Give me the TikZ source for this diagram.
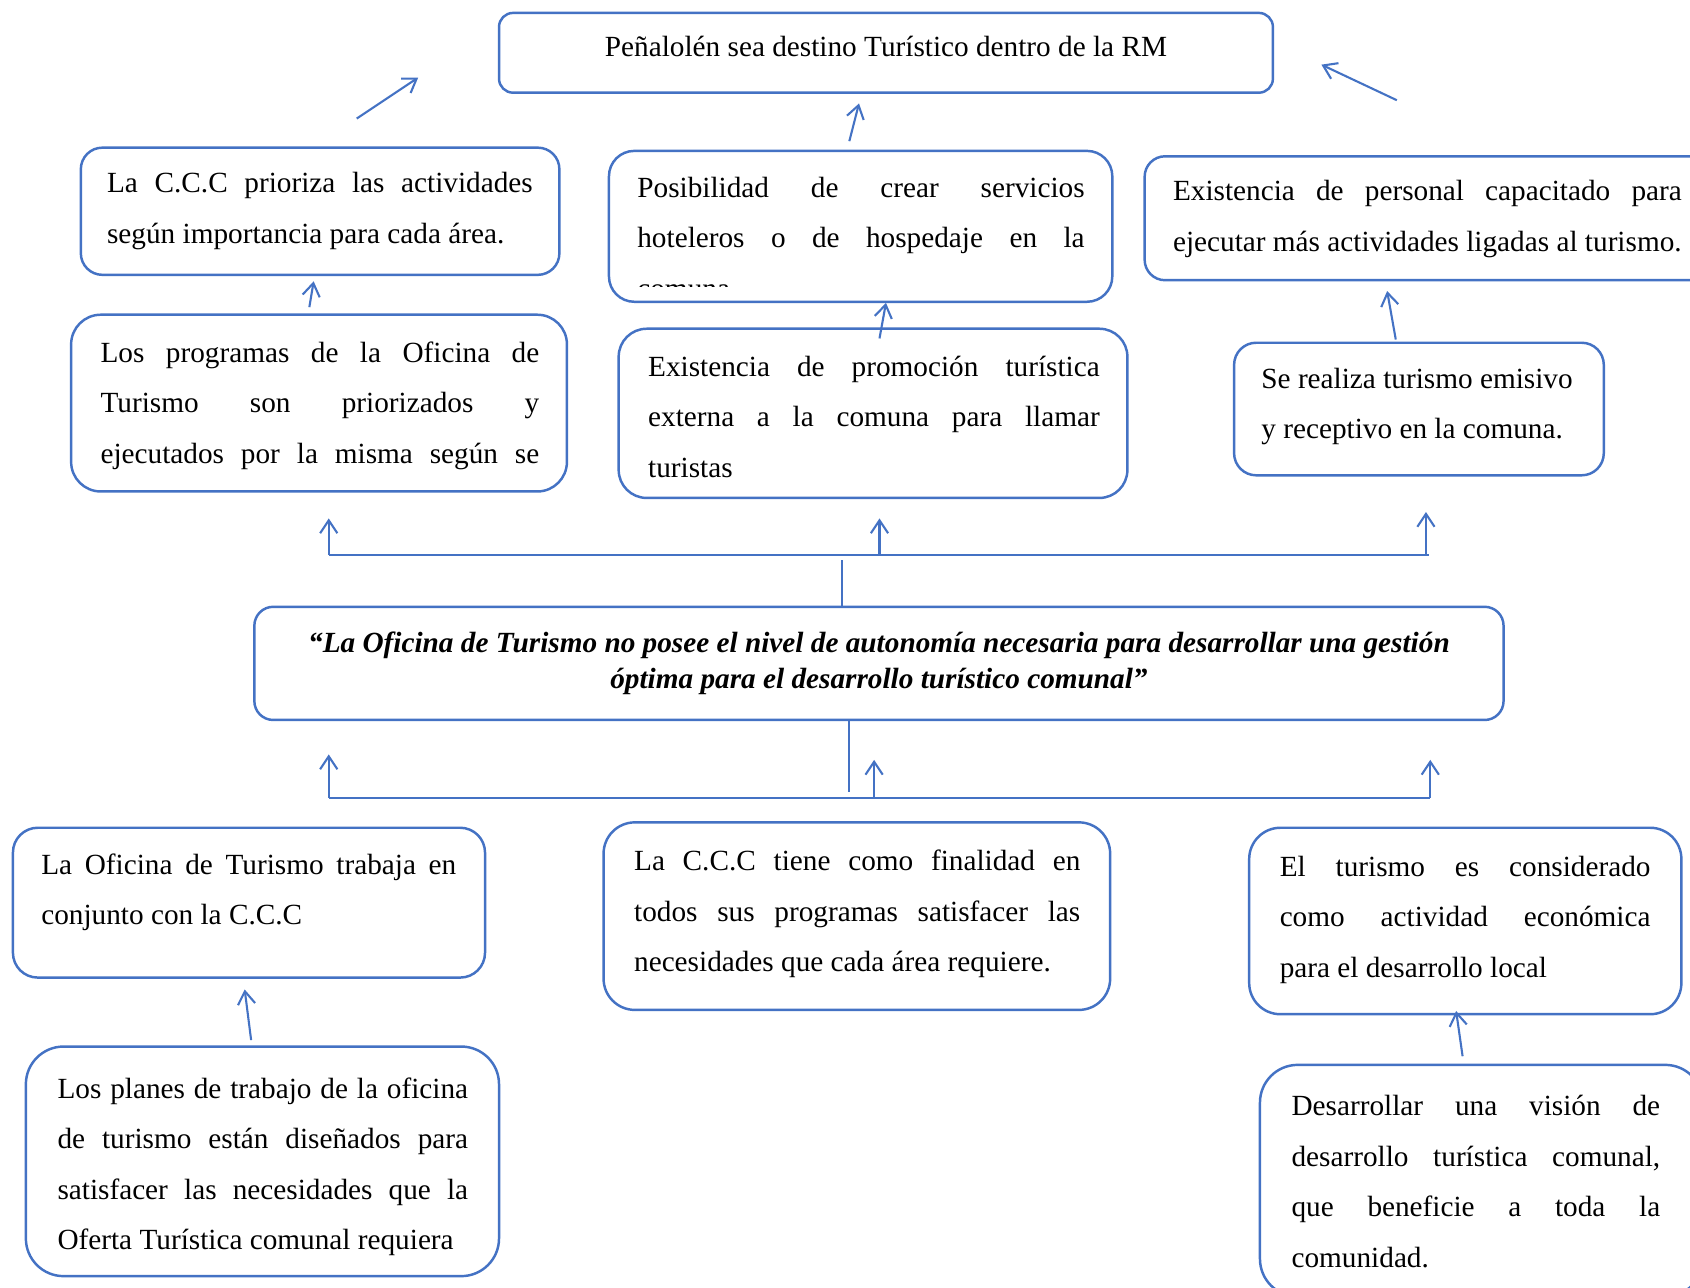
\documentclass[tikz,border=0pt]{standalone}
\usepackage{fontspec}
\setmainfont{Liberation Serif}
\usetikzlibrary{fit,arrows.meta}
\definecolor{boxblue}{HTML}{4472C4}
\newcommand{\jl}[2]{\makebox[\dimexpr0.02cm*#1\relax][s]{\spaceskip=0pt\xspaceskip=0pt #2}}
\begin{document}
\begin{tikzpicture}[x=0.02cm,y=-0.02cm,
  box/.style={draw=boxblue,line width=1.3pt,inner sep=0pt},
  txt/.style={inner sep=0pt,anchor=base west,font=\fontsize{15.45}{26.7}\selectfont,align=left,text width=10cm,
    execute at begin node={\spaceskip=0pt\xspaceskip=0pt}},
  arr/.style={draw=boxblue,line width=1.1pt,-{Straight Barb[length=0.24cm,width=0.32cm]}},
  conn/.style={draw=boxblue,line width=1.1pt}]
\clip (0,0) rectangle (1568,1195);
\fill[white] (0,0) rectangle (1568,1195);

% top goal
\node[box,rounded corners=0.26cm,fit={(463,12)(1181,86)}] (top) {};
\node[inner sep=0pt,font=\fontsize{15.45}{26.7}\selectfont,anchor=base] (ttop) at (822,52) {Peñalolén sea destino Turístico dentro de la RM};

% upper level 2
\node[box,rounded corners=0.4cm,fit={(75,137)(519,255)}] (b1) {};
\node[txt] (t1) at (99,179) {\jl{395}{La C.C.C prioriza las actividades}\\según importancia para cada área.};

\node[box,rounded corners=0.47cm,fit={(565,140)(1032,280)}] (b2) {};
\begin{scope}
\clip (565,140) rectangle (1032,266);
\node[txt] (t2) at (591,183) {\jl{415}{Posibilidad de crear servicios}\\\jl{415}{hoteleros o de hospedaje en la}\\comuna};
\end{scope}

\node[box,rounded corners=0.38cm,fit={(1062,145)(1600,260)}] (b3) {};
\node[txt] (t3) at (1088,186) {\jl{472}{Existencia de personal capacitado para}\\ejecutar más actividades ligadas al turismo.};

% upper level 1
\node[box,rounded corners=0.55cm,fit={(66,292)(526,456)}] (b4) {};
\node[txt] (t4) at (93,336) {\jl{407}{Los programas de la Oficina de}\\\jl{407}{Turismo son priorizados y}\\\jl{407}{ejecutados por la misma según se}};

\node[box,rounded corners=0.52cm,fit={(574,305)(1046,462)}] (b5) {};
\node[txt] (t5) at (601,349) {\jl{419}{Existencia de promoción turística}\\\jl{419}{externa a la comuna para llamar}\\turistas};

\node[box,rounded corners=0.41cm,fit={(1145,318)(1488,441)}] (b6) {};
\node[txt] (t6) at (1170,360) {Se realiza turismo emisivo\\y receptivo en la comuna.};

% central problem
\node[box,rounded corners=0.35cm,fit={(236,563)(1395,668)}] (cent) {};
\node[inner sep=0pt,anchor=base,align=center,font=\fontsize{15.45}{19.3}\selectfont\bfseries\itshape] (tcent) at (815.5,639)
 {“La Oficina de Turismo no posee el nivel de autonomía necesaria para desarrollar una gestión\\óptima para el desarrollo turístico comunal”};

% lower level 1
\node[box,rounded corners=0.46cm,fit={(12,768)(450,907)}] (b7) {};
\node[txt] (t7) at (38,811) {\jl{385}{La Oficina de Turismo trabaja en}\\conjunto con la C.C.C};

\node[box,rounded corners=0.58cm,fit={(560,763)(1030,937)}] (b8) {};
\node[txt] (t8) at (588,808) {\jl{414}{La C.C.C tiene como finalidad en}\\\jl{414}{todos sus programas satisfacer las}\\necesidades que cada área requiere.};

\node[box,rounded corners=0.58cm,fit={(1159,768)(1560,941)}] (b9) {};
\node[txt] (t9) at (1187,813) {\jl{344}{El turismo es considerado}\\\jl{344}{como actividad económica}\\para el desarrollo local};

% lower level 2
\node[box,rounded corners=0.7cm,fit={(24,971)(463,1184)}] (b10) {};
\node[txt] (t10) at (53,1019) {\jl{381}{Los planes de trabajo de la oficina}\\\jl{381}{de turismo están diseñados para}\\\jl{381}{satisfacer las necesidades que la}\\Oferta Turística comunal requiera};

\node[box,rounded corners=0.7cm,fit={(1169,988)(1580,1203)}] (b11) {};
\node[txt] (t11) at (1198,1035) {\jl{342}{Desarrollar una visión de}\\\jl{342}{desarrollo turística comunal,}\\\jl{342}{que beneficie a toda la}\\comunidad.};

% connector coordinates
\coordinate (a1s) at (331,110); \coordinate (a1e) at (388,72);
\coordinate (a2s) at (788,131); \coordinate (a2e) at (797,96);
\coordinate (a3s) at (1296,93); \coordinate (a3e) at (1226,60);
\coordinate (a4s) at (287,285); \coordinate (a4e) at (291,261);
\coordinate (a5s) at (816,314); \coordinate (a5e) at (822,281);
\coordinate (a6s) at (1295,315); \coordinate (a6e) at (1287,270);
\coordinate (bus1l) at (305,515); \coordinate (bus1r) at (1326,515);
\coordinate (u1e) at (305,481); \coordinate (u2s) at (816,515); \coordinate (u2e) at (816,481);
\coordinate (u3s) at (1323,515); \coordinate (u3e) at (1323,475);
\coordinate (stem1) at (781,520);
\coordinate (bus2l) at (305,740); \coordinate (bus2r) at (1327,740);
\coordinate (stem2) at (788,735);
\coordinate (d1e) at (305,700); \coordinate (d2s) at (811,740); \coordinate (d2e) at (811,705);
\coordinate (d3e) at (1327,705);
\coordinate (a7s) at (233,965); \coordinate (a7e) at (227,918);
\coordinate (a8s) at (1357,980); \coordinate (a8e) at (1351,938);

\draw[arr] (a1s) -- (a1e);
\draw[arr] (a2s) -- (a2e);
\draw[arr] (a3s) -- (a3e);
\draw[arr] (a4s) -- (a4e);
\draw[arr] (a5s) -- (a5e);
\draw[arr] (a6s) -- (a6e);
\draw[conn] (bus1l) -- (bus1r);
\draw[arr] (bus1l) -- (u1e);
\draw[arr] (u2s) -- (u2e);
\draw[arr] (u3s) -- (u3e);
\draw[conn] (stem1) -- (stem1 |- cent.north);
\draw[conn] (bus2l) -- (bus2r);
\draw[conn] (stem2 |- cent.south) -- (stem2);
\draw[arr] (bus2l) -- (d1e);
\draw[arr] (d2s) -- (d2e);
\draw[arr] (bus2r) -- (d3e);
\draw[arr] (a7s) -- (a7e);
\draw[arr] (a8s) -- (a8e);
\end{tikzpicture}
\end{document}
